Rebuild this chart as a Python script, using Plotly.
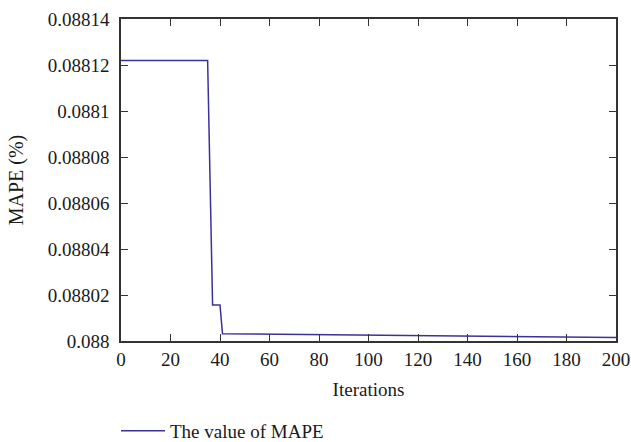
import plotly.graph_objects as go

iterations = [0, 35, 37, 40, 41, 60, 80, 100, 120, 140, 160, 180, 200]
mape = [0.088122, 0.088122, 0.0880157, 0.0880157, 0.0880032, 0.0880030,
        0.0880028, 0.0880026, 0.0880024, 0.0880022, 0.0880020, 0.0880018, 0.0880015]

y_tickvals = [0.088, 0.08802, 0.08804, 0.08806, 0.08808, 0.0881, 0.08812, 0.08814]
y_ticktext = ["0.088", "0.08802", "0.08804", "0.08806", "0.08808", "0.0881", "0.08812", "0.08814"]
x_tickvals = [0, 20, 40, 60, 80, 100, 120, 140, 160, 180, 200]

FONT = "Liberation Serif"
AX = "#333333"
TXT = "#1a1a1a"

fig = go.Figure()
fig.add_trace(go.Scatter(x=iterations, y=mape, mode="lines",
                         line=dict(color="#3b3296", width=1.5),
                         name="The value of MAPE"))

fig.update_layout(
    width=631, height=442,
    margin=dict(l=121, r=15, t=19, b=101, autoexpand=False),
    paper_bgcolor="white", plot_bgcolor="white",
    font=dict(family=FONT, size=19, color=TXT),
    showlegend=True,
    legend=dict(orientation="h", xref="container", x=116 / 631, xanchor="left",
                yref="container", y=11 / 442, yanchor="middle",
                itemwidth=44,
                font=dict(family=FONT, size=19, color=TXT),
                bgcolor="rgba(0,0,0,0)"),
    xaxis=dict(range=[0, 200], tickvals=x_tickvals, ticks="inside", ticklen=7,
               tickcolor=AX, tickwidth=1.3, showline=True, linecolor=AX, linewidth=1.5,
               mirror="ticks", showgrid=False, zeroline=False, automargin=False,
               title=dict(text="Iterations", standoff=14, font=dict(size=19)),
               tickfont=dict(family=FONT, size=19, color=TXT)),
    yaxis=dict(range=[0.088, 0.08814], tickvals=y_tickvals, ticktext=y_ticktext,
               ticks="inside", ticklen=7, tickcolor=AX, tickwidth=1.3,
               showline=True, linecolor=AX, linewidth=1.5, mirror="ticks",
               showgrid=False, zeroline=False, automargin=False,
               ticklabelstandoff=6,
               title=dict(text="MAPE (%)", standoff=19, font=dict(size=20)),
               tickfont=dict(family=FONT, size=19, color=TXT)),
)

fig.write_html("out.html", config={"displayModeBar": False},
               post_script="document.body.style.margin='0';document.body.style.overflow='hidden';")
